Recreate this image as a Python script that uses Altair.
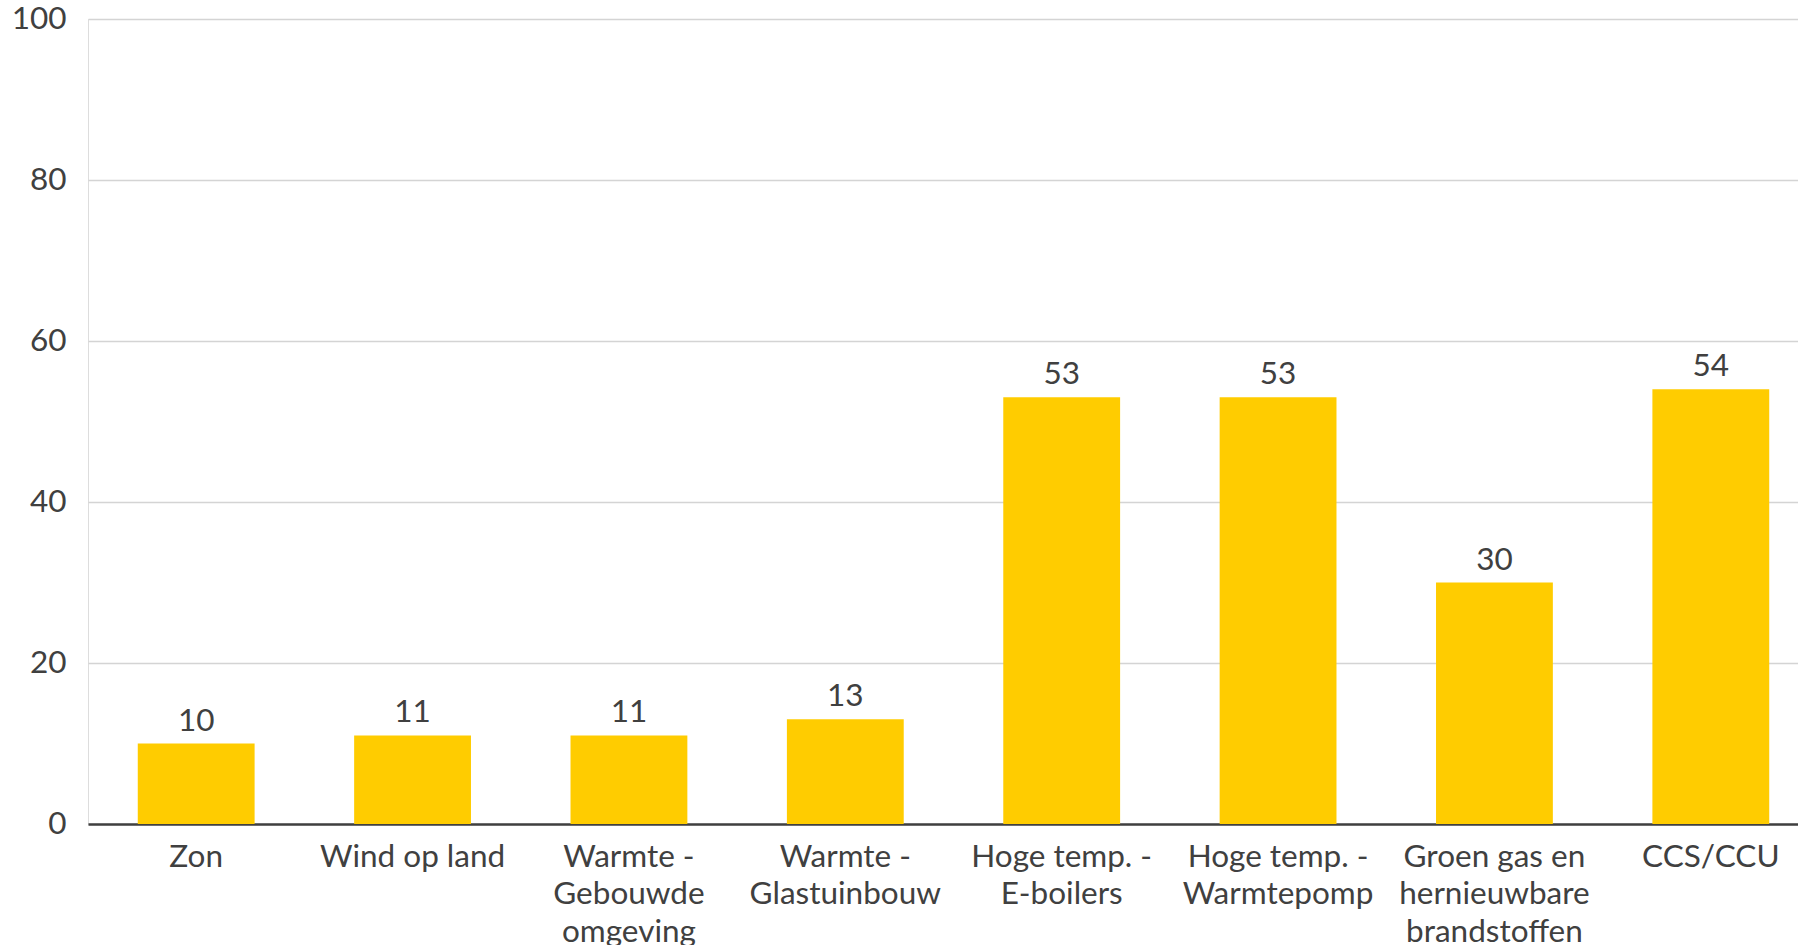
import altair as alt
import pandas as pd

categories = [
    "Zon",
    "Wind op land",
    "Warmte -|Gebouwde|omgeving",
    "Warmte -|Glastuinbouw",
    "Hoge temp. -|E-boilers",
    "Hoge temp. -|Warmtepomp",
    "Groen gas en|hernieuwbare|brandstoffen",
    "CCS/CCU",
]
values = [10, 11, 11, 13, 53, 53, 30, 54]
y_ticks = [0, 20, 40, 60, 80, 100]

df = pd.DataFrame({"cat": categories, "val": values})

FONT = "Lato"
TXT = "#404040"
FS = 31.5

x_enc = alt.X(
    "cat:N",
    sort=categories,
    title=None,
    scale=alt.Scale(range=[0, 1731], paddingInner=0.46, paddingOuter=0.23),
    axis=alt.Axis(
        labelExpr="split(datum.label, '|')",
        labelAngle=0,
        labelFont=FONT,
        labelFontSize=FS,
        labelColor=TXT,
        labelLineHeight=37.5,
        labelPadding=17,
        labelBaseline="top",
        ticks=False,
        tickSize=0,
        domainColor=TXT,
        domainWidth=2.5,
        grid=False,
        labelOverlap=False,
        labelLimit=400,
    ),
)

y_enc = alt.Y(
    "val:Q",
    title=None,
    scale=alt.Scale(domain=[0, 100], nice=False),
    axis=alt.Axis(
        values=y_ticks,
        labelFont=FONT,
        labelFontSize=FS,
        labelColor=TXT,
        labelPadding=22,
        ticks=False,
        tickSize=0,
        domain=False,
        gridColor="#d4d4d4",
        gridWidth=1.3,
    ),
)

bars = alt.Chart(df).mark_bar(color="#FFCC00").encode(x=x_enc, y=y_enc)

labels = alt.Chart(df).mark_text(
    baseline="alphabetic", dy=-13, font=FONT, fontSize=FS, color=TXT
).encode(x=alt.X("cat:N", sort=categories), y="val:Q", text="val:Q")

chart = (
    alt.layer(bars, labels)
    .properties(
        width=1710,
        height=805,
        autosize=alt.AutoSizeParams(type="none"),
        padding={"left": 88, "top": 19, "right": 0, "bottom": 121},
    )
    .configure_view(stroke=None)
    .configure(background="white")
)

chart.save("out.html", embed_options={"renderer": "svg", "actions": False})
